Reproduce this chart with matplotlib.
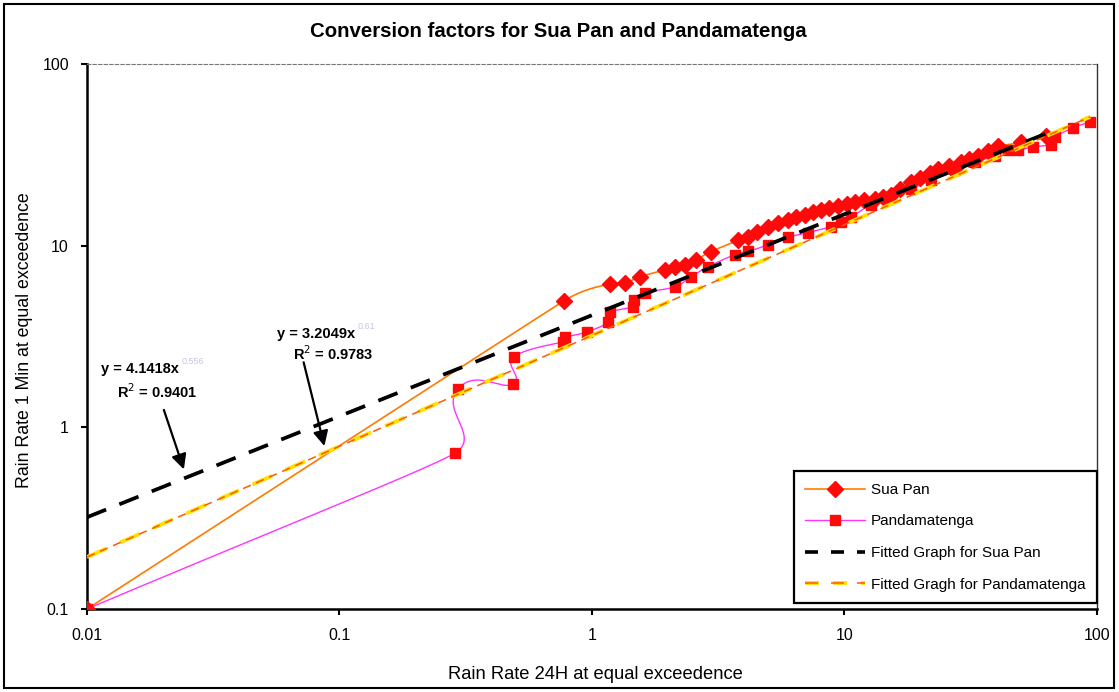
import numpy as np
import matplotlib
matplotlib.use("Agg")
import matplotlib.pyplot as plt
from matplotlib.lines import Line2D
from matplotlib.patches import Rectangle

plt.rcParams["font.family"] = ["Liberation Sans", "DejaVu Sans"]

# equal-exceedance pairs: 24 h rain rate vs 1 min rain rate (mm/h)
sua_24h = [0.01, 0.775, 1.18, 1.35, 1.55, 1.95, 2.13, 2.33, 2.58, 2.96, 3.79, 4.15,
           4.5, 4.98, 5.45, 5.97, 6.45, 6.98, 7.5, 8.1, 8.7, 9.4, 10.2, 11.0, 12.0,
           13.2, 14.2, 15.3, 16.6, 18.3, 20.0, 21.8, 23.5, 26.0, 29.0, 31.0, 33.8,
           37.0, 40.5, 50.0, 63.0]
sua_1min = [0.1, 4.97, 6.17, 6.25, 6.74, 7.37, 7.65, 7.85, 8.37, 9.27, 10.7, 11.2,
            11.9, 12.7, 13.3, 13.9, 14.3, 14.8, 15.3, 15.8, 16.1, 16.5, 17.0, 17.5,
            17.8, 18.0, 18.6, 19.1, 20.6, 22.3, 23.6, 25.0, 26.3, 27.6, 29.0, 30.0,
            31.0, 33.0, 35.2, 37.0, 40.0]

pan_24h = [0.01, 0.286, 0.294, 0.486, 0.49, 0.77, 0.78, 0.96, 1.16, 1.18, 1.45,
           1.47, 1.62, 2.13, 2.47, 2.88, 3.68, 4.15, 4.98, 5.97, 7.16, 8.83, 9.7,
           10.6, 12.7, 14.9, 18.3, 22.0, 27.3, 32.8, 39.4, 44.5, 48.7, 55.9, 65.9,
           68.0, 80.4, 93.8]
pan_1min = [0.1, 0.72, 1.62, 1.73, 2.44, 2.95, 3.14, 3.36, 3.8, 4.3, 4.6, 5.04,
            5.51, 5.94, 6.75, 7.66, 8.92, 9.3, 10.1, 11.1, 11.8, 12.7, 13.5, 14.3,
            16.8, 18.0, 20.4, 23.0, 26.0, 29.0, 31.0, 33.6, 33.6, 35.0, 36.0, 39.6,
            44.5, 48.0]

# power-law trendlines y = a * x^b
sua_a, sua_b, sua_r2 = 4.1418, 0.556, 0.9401
pan_a, pan_b, pan_r2 = 3.2049, 0.61, 0.9783
sua_fit_range = (0.01, 64.0)
pan_fit_range = (0.01, 94.0)

labels = ["Sua Pan", "Pandamatenga", "Fitted Graph for Sua Pan",
          "Fitted Gragh for Pandamatenga"]


def smooth_loglog(x, y, s=0.5, n=24, aspect=1.39):
    # smoothed line: cubic Bezier segments in log-log space; handle length at
    # each point is limited by its shorter neighbouring segment
    lx = np.log10(x) * aspect
    ly = np.log10(y)
    pts = np.column_stack([lx, ly])
    m = len(pts)
    seglen = np.hypot(*np.diff(pts, axis=0).T)
    tang = np.zeros_like(pts)
    hlen = np.zeros(m)
    for i in range(m):
        a = pts[max(i - 1, 0)]
        b = pts[min(i + 1, m - 1)]
        d = b - a
        nd = np.hypot(*d)
        tang[i] = d / nd if nd > 0 else 0
        near = [seglen[j] for j in (i - 1, i) if 0 <= j < m - 1]
        hlen[i] = s * min(near)
    t = np.linspace(0, 1, n)[:, None]
    segs = []
    for i in range(m - 1):
        p1, p2 = pts[i], pts[i + 1]
        L = seglen[i]
        c1 = p1 + tang[i] * min(hlen[i], s * L)
        c2 = p2 - tang[i + 1] * min(hlen[i + 1], s * L)
        seg = ((1 - t) ** 3) * p1 + 3 * ((1 - t) ** 2) * t * c1 \
            + 3 * (1 - t) * t ** 2 * c2 + t ** 3 * p2
        segs.append(seg)
    out = np.vstack(segs)
    return 10 ** (out[:, 0] / aspect), 10 ** out[:, 1]


fig = plt.figure(figsize=(11.19, 6.92), dpi=100)
ax = fig.add_axes([0.0777, 0.1199, 0.9026, 0.7876])
ax.set_xscale("log")
ax.set_yscale("log")
ax.set_xlim(0.01, 100)
ax.set_ylim(0.1, 100)

orange = "#ff7a00"
magenta = "#ff33ff"
red = "#ff0a0a"

# data series
sx, sy = smooth_loglog(sua_24h, sua_1min)
ax.plot(sx, sy, color=orange, lw=1.2, zorder=3)
ax.plot(sua_24h, sua_1min, ls="none", marker="D", ms=8, mfc=red, mec=red, zorder=4)

px_, py_ = smooth_loglog(pan_24h, pan_1min)
ax.plot(px_, py_, color=magenta, lw=1.0, zorder=3)
ax.plot(pan_24h, pan_1min, ls="none", marker="s", ms=7, mfc=red, mec=red, zorder=4)

# trendlines
dash = (5.5, 3.8)
fx = np.geomspace(*sua_fit_range, 60)
ax.plot(fx, sua_a * fx ** sua_b, color="black", lw=2.7, ls=(0, dash), zorder=5)
gx = np.geomspace(*pan_fit_range, 60)
ax.plot(gx, pan_a * gx ** pan_b, color="#ffe000", lw=2.8, ls=(0, dash), zorder=5)
ax.plot(gx, pan_a * gx ** pan_b, color="#ff5a00", lw=1.1, ls=(0, dash), zorder=6)

# axes styling
for side in ["left", "bottom"]:
    ax.spines[side].set_linewidth(1.8)
ax.spines["right"].set_linewidth(1.0)
ax.spines["right"].set_color("#333333")
ax.spines["top"].set_linewidth(0.8)
ax.spines["top"].set_color("#777777")
ax.spines["top"].set_linestyle((0, (3, 2)))

ax.set_xticks([0.01, 0.1, 1, 10, 100])
ax.set_xticklabels(["0.01", "0.1", "1", "10", "100"])
ax.set_yticks([0.1, 1, 10, 100])
ax.set_yticklabels(["0.1", "1", "10", "100"])
ax.minorticks_off()
ax.tick_params(axis="x", direction="out", length=4, width=1.5, pad=10, labelsize=11.5)
ax.tick_params(axis="y", direction="out", length=4, width=1.5, pad=9, labelsize=11.5)

ax.set_xlabel("Rain Rate 24H at equal exceedence", fontsize=13.2)
ax.set_ylabel("Rain Rate 1 Min at equal exceedence", fontsize=12.8)
ax.xaxis.set_label_coords(0.503, -0.105)
ax.yaxis.set_label_coords(-0.053, 0.494)

fig.text(0.4987, 0.954, "Conversion factors for Sua Pan and Pandamatenga",
         ha="center", va="center", fontsize=14.7, fontweight="bold")

# legend
h_sua = Line2D([], [], color=orange, lw=1.2, marker="D", ms=8, mfc=red, mec=red)
h_pan = Line2D([], [], color=magenta, lw=1.0, marker="s", ms=7, mfc=red, mec=red)
h_sfit = Line2D([], [], color="black", lw=2.6, ls=(0, (3.6, 3.6)))
h_pfit = (Line2D([], [], color="#ffe000", lw=2.8, ls=(0, (3.6, 3.6))),
          Line2D([], [], color="#ff5a00", lw=1.1, ls=(0, (8.5, 8.5))))
leg = ax.legend([h_sua, h_pan, h_sfit, h_pfit], labels, loc="lower right",
                bbox_to_anchor=(1.0, 0.011), borderaxespad=0, fontsize=11,
                frameon=True, fancybox=False, edgecolor="black", framealpha=1,
                handlelength=3.9, handletextpad=0.4, labelspacing=1.15,
                borderpad=0.75, numpoints=1)
leg.get_frame().set_linewidth(1.6)
leg.set_zorder(10)

# trendline equations with arrows
t1 = fig.text(101 / 1119, 1 - 369 / 692, "y = 4.1418x", fontsize=10.5,
              fontweight="bold", va="center", ha="left")
ax.annotate(f"{sua_b:.4f}".rstrip("0"), xy=(1.03, 0.75), xycoords=t1, fontsize=6.5,
            color="#c9c4e0", va="bottom", ha="left")
fig.text(117 / 1119, 1 - 392 / 692, f"R$^2$ = {sua_r2:.4f}", fontsize=10.5,
         fontweight="bold", va="center", ha="left")
t2 = fig.text(277 / 1119, 1 - 334 / 692, "y = 3.2049x", fontsize=10.5,
              fontweight="bold", va="center", ha="left")
ax.annotate(f"{pan_b:.4f}".rstrip("0"), xy=(1.03, 0.75), xycoords=t2, fontsize=6.5,
            color="#c9c4e0", va="bottom", ha="left")
fig.text(293 / 1119, 1 - 354 / 692, f"R$^2$ = {pan_r2:.4f}", fontsize=10.5,
         fontweight="bold", va="center", ha="left")

arrow = dict(arrowstyle="-|>,head_length=0.9,head_width=0.45", color="black", lw=1.6)
ax.annotate("", xy=(0.0244, sua_a * 0.0244 ** sua_b * 1.08), xytext=(0.0200, 1.29),
            arrowprops=arrow, zorder=8)
ax.annotate("", xy=(0.0877, pan_a * 0.0877 ** pan_b * 1.05), xytext=(0.0717, 2.36),
            arrowprops=arrow, zorder=8)

# outer frame around the chart
fig.patches.append(Rectangle((4 / 1119, 4 / 692), 1110 / 1119, 684 / 692,
                             transform=fig.transFigure, fill=False,
                             edgecolor="black", lw=1.5))

fig.savefig("out.png", dpi=100)
